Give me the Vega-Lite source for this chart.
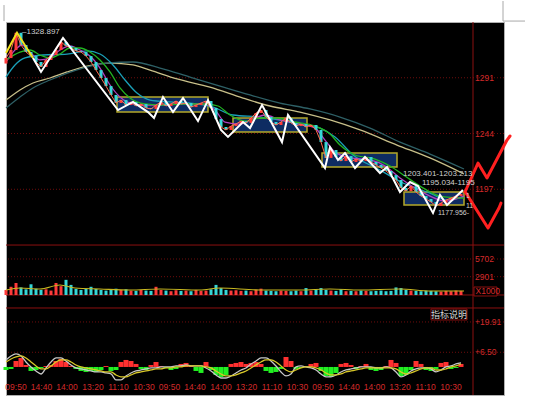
{
"$schema":"https://vega.github.io/schema/vega-lite/v6.json",
"width":498,"height":373,"autosize":"none",
"padding":{"left":6,"top":22,"right":54,"bottom":3},
"background":"#ffffff",
"config":{"view":{"fill":"#000000","stroke":"#b0b0b0","strokeWidth":1},"axis":{"disable":true},"legend":{"disable":true},"text":{"font":"Liberation Sans"}},
"datasets":{
"k":[
{"t":0,"o":1303.0,"c":1307.6,"v":800,"dif":3.10,"dea":2.21,"h":-1.33},
{"t":1,"o":1307.6,"c":1314.4,"v":1300,"dif":4.87,"dea":3.54,"h":-0.88},
{"t":2,"o":1314.4,"c":1328.9,"v":1900,"dif":5.75,"dea":4.42,"h":2.65},
{"t":3,"o":1328.9,"c":1318.6,"v":1200,"dif":4.87,"dea":4.87,"h":3.98},
{"t":4,"o":1318.6,"c":1312.7,"v":900,"dif":2.21,"dea":3.98,"h":0.88},
{"t":5,"o":1312.7,"c":1309.3,"v":1700,"dif":0,"dea":2.21,"h":-1.77},
{"t":6,"o":1309.3,"c":1304.3,"v":1000,"dif":-1.77,"dea":0.44,"h":-1.33},
{"t":7,"o":1304.3,"c":1300.1,"v":800,"dif":-3.10,"dea":-0.88,"h":-0.44},
{"t":8,"o":1300.1,"c":1306.0,"v":900,"dif":-0.44,"dea":-0.88,"h":0.44},
{"t":9,"o":1306.0,"c":1310.2,"v":700,"dif":2.21,"dea":0.44,"h":0.88},
{"t":10,"o":1310.2,"c":1314.4,"v":1900,"dif":3.98,"dea":2.21,"h":2.65},
{"t":11,"o":1314.4,"c":1321.1,"v":1400,"dif":3.98,"dea":3.10,"h":3.54},
{"t":12,"o":1321.1,"c":1317.8,"v":2400,"dif":2.65,"dea":3.10,"h":2.21},
{"t":13,"o":1317.8,"c":1316.1,"v":1600,"dif":0.88,"dea":2.21,"h":0.44},
{"t":14,"o":1316.1,"c":1313.6,"v":950,"dif":-0.44,"dea":0.88,"h":-0.88},
{"t":15,"o":1313.6,"c":1312.7,"v":800,"dif":-0.88,"dea":0,"h":-1.77},
{"t":16,"o":1312.7,"c":1309.3,"v":950,"dif":-1.33,"dea":-0.44,"h":-2.21},
{"t":17,"o":1309.3,"c":1304.3,"v":1300,"dif":-1.77,"dea":-0.88,"h":-1.77},
{"t":18,"o":1304.3,"c":1297.5,"v":950,"dif":-2.21,"dea":-1.33,"h":-2.21},
{"t":19,"o":1297.5,"c":1290.8,"v":800,"dif":-2.21,"dea":-1.77,"h":-1.33},
{"t":20,"o":1290.8,"c":1284.0,"v":700,"dif":-2.65,"dea":-2.21,"h":0.44},
{"t":21,"o":1284.0,"c":1276.5,"v":800,"dif":-3.10,"dea":-2.21,"h":-1.77},
{"t":22,"o":1276.5,"c":1269.7,"v":1000,"dif":-5.75,"dea":-3.54,"h":-1.33},
{"t":23,"o":1269.7,"c":1272.2,"v":800,"dif":-5.75,"dea":-4.42,"h":2.21},
{"t":24,"o":1272.2,"c":1268.0,"v":900,"dif":-3.98,"dea":-4.42,"h":3.10},
{"t":25,"o":1268.0,"c":1270.6,"v":700,"dif":-2.65,"dea":-3.54,"h":2.65},
{"t":26,"o":1270.6,"c":1267.2,"v":650,"dif":-1.77,"dea":-2.65,"h":1.33},
{"t":27,"o":1267.2,"c":1268.9,"v":800,"dif":-1.33,"dea":-2.21,"h":-0.88},
{"t":28,"o":1268.9,"c":1265.5,"v":700,"dif":-0.88,"dea":-1.77,"h":-1.33},
{"t":29,"o":1265.5,"c":1264.7,"v":650,"dif":-0.44,"dea":-1.33,"h":0.88},
{"t":30,"o":1264.7,"c":1268.0,"v":1300,"dif":-0.44,"dea":-0.88,"h":2.21},
{"t":31,"o":1268.0,"c":1270.6,"v":800,"dif":0,"dea":-0.88,"h":0.44},
{"t":32,"o":1270.6,"c":1267.2,"v":700,"dif":0,"dea":-0.44,"h":-0.44},
{"t":33,"o":1267.2,"c":1268.9,"v":600,"dif":0,"dea":-0.44,"h":-1.33},
{"t":34,"o":1268.9,"c":1271.4,"v":750,"dif":0.44,"dea":0,"h":-0.88},
{"t":35,"o":1271.4,"c":1268.9,"v":650,"dif":0.44,"dea":0,"h":1.33},
{"t":36,"o":1268.9,"c":1269.7,"v":700,"dif":0.88,"dea":0.44,"h":1.77},
{"t":37,"o":1269.7,"c":1266.3,"v":600,"dif":0.44,"dea":0.44,"h":0.44},
{"t":38,"o":1266.3,"c":1268.0,"v":800,"dif":0.44,"dea":0.44,"h":-1.77},
{"t":39,"o":1268.0,"c":1269.7,"v":650,"dif":0.44,"dea":0.44,"h":-2.65},
{"t":40,"o":1269.7,"c":1271.4,"v":700,"dif":-0.44,"dea":0,"h":2.21},
{"t":41,"o":1271.4,"c":1265.5,"v":900,"dif":-1.77,"dea":-0.44,"h":-1.33},
{"t":42,"o":1265.5,"c":1256.2,"v":1600,"dif":-3.54,"dea":-1.77,"h":-3.54},
{"t":43,"o":1256.2,"c":1249.5,"v":1100,"dif":-4.87,"dea":-3.10,"h":-4.42},
{"t":44,"o":1249.5,"c":1247.0,"v":800,"dif":-4.87,"dea":-3.98,"h":-3.54},
{"t":45,"o":1247.0,"c":1250.3,"v":700,"dif":-3.98,"dea":-3.98,"h":1.33},
{"t":46,"o":1250.3,"c":1252.0,"v":750,"dif":-2.65,"dea":-3.54,"h":1.77},
{"t":47,"o":1252.0,"c":1254.5,"v":650,"dif":-1.33,"dea":-2.65,"h":2.21},
{"t":48,"o":1254.5,"c":1252.9,"v":700,"dif":-0.44,"dea":-1.77,"h":1.33},
{"t":49,"o":1252.9,"c":1257.1,"v":600,"dif":1.33,"dea":-0.44,"h":1.77},
{"t":50,"o":1257.1,"c":1261.3,"v":850,"dif":2.65,"dea":0.88,"h":2.21},
{"t":51,"o":1261.3,"c":1263.8,"v":1000,"dif":3.98,"dea":2.21,"h":1.33},
{"t":52,"o":1263.8,"c":1257.9,"v":700,"dif":3.98,"dea":3.10,"h":-1.77},
{"t":53,"o":1257.9,"c":1253.7,"v":650,"dif":2.65,"dea":3.10,"h":-2.65},
{"t":54,"o":1253.7,"c":1251.2,"v":600,"dif":0.44,"dea":2.21,"h":-2.21},
{"t":55,"o":1251.2,"c":1253.7,"v":700,"dif":-2.21,"dea":0.44,"h":-0.88},
{"t":56,"o":1253.7,"c":1257.1,"v":650,"dif":-3.98,"dea":-1.33,"h":4.42},
{"t":57,"o":1257.1,"c":1252.9,"v":600,"dif":-3.10,"dea":-2.21,"h":2.65},
{"t":58,"o":1252.9,"c":1250.3,"v":700,"dif":0,"dea":-1.33,"h":-0.88},
{"t":59,"o":1250.3,"c":1252.0,"v":600,"dif":0.44,"dea":-0.44,"h":-0.44},
{"t":60,"o":1252.0,"c":1249.5,"v":1100,"dif":0,"dea":0,"h":0.44},
{"t":61,"o":1249.5,"c":1251.2,"v":700,"dif":-0.44,"dea":0,"h":1.33},
{"t":62,"o":1251.2,"c":1247.0,"v":900,"dif":-1.33,"dea":-0.44,"h":1.77},
{"t":63,"o":1247.0,"c":1236.8,"v":1100,"dif":-3.10,"dea":-1.33,"h":-1.77},
{"t":64,"o":1236.8,"c":1223.4,"v":800,"dif":-4.42,"dea":-2.65,"h":-3.98},
{"t":65,"o":1223.4,"c":1230.1,"v":700,"dif":-4.42,"dea":-3.54,"h":-4.42},
{"t":66,"o":1230.1,"c":1224.2,"v":650,"dif":-3.54,"dea":-3.54,"h":-2.65},
{"t":67,"o":1224.2,"c":1220.8,"v":900,"dif":-2.21,"dea":-3.10,"h":1.33},
{"t":68,"o":1220.8,"c":1225.0,"v":600,"dif":-1.33,"dea":-2.21,"h":1.77},
{"t":69,"o":1225.0,"c":1220.0,"v":650,"dif":-0.88,"dea":-1.77,"h":0.88},
{"t":70,"o":1220.0,"c":1222.5,"v":600,"dif":-0.44,"dea":-1.33,"h":-0.88},
{"t":71,"o":1222.5,"c":1220.8,"v":700,"dif":0,"dea":-0.88,"h":0.44},
{"t":72,"o":1220.8,"c":1224.2,"v":650,"dif":0,"dea":-0.44,"h":1.33},
{"t":73,"o":1224.2,"c":1220.0,"v":600,"dif":0,"dea":-0.44,"h":-1.33},
{"t":74,"o":1220.0,"c":1217.5,"v":650,"dif":-0.44,"dea":-0.44,"h":-1.77},
{"t":75,"o":1217.5,"c":1214.9,"v":700,"dif":-0.44,"dea":-0.44,"h":-1.33},
{"t":76,"o":1214.9,"c":1212.4,"v":600,"dif":0,"dea":-0.44,"h":0.44},
{"t":77,"o":1212.4,"c":1209.0,"v":650,"dif":-0.44,"dea":-0.44,"h":3.10},
{"t":78,"o":1209.0,"c":1204.8,"v":1200,"dif":-2.21,"dea":-0.88,"h":1.77},
{"t":79,"o":1204.8,"c":1198.1,"v":1100,"dif":-4.42,"dea":-2.21,"h":-3.98},
{"t":80,"o":1198.1,"c":1195.5,"v":800,"dif":-3.54,"dea":-3.10,"h":-3.54},
{"t":81,"o":1195.5,"c":1199.7,"v":700,"dif":-1.77,"dea":-2.65,"h":-1.33},
{"t":82,"o":1199.7,"c":1194.7,"v":650,"dif":-0.88,"dea":-1.77,"h":2.65},
{"t":83,"o":1194.7,"c":1191.3,"v":600,"dif":-0.44,"dea":-0.88,"h":1.33},
{"t":84,"o":1191.3,"c":1188.8,"v":700,"dif":-0.44,"dea":-0.44,"h":-1.33},
{"t":85,"o":1188.8,"c":1186.3,"v":650,"dif":-0.88,"dea":-0.44,"h":-1.77},
{"t":86,"o":1186.3,"c":1182.9,"v":600,"dif":-2.21,"dea":-1.33,"h":-0.88},
{"t":87,"o":1182.9,"c":1185.4,"v":550,"dif":-1.33,"dea":-1.33,"h":1.77},
{"t":88,"o":1185.4,"c":1187.9,"v":650,"dif":0,"dea":-0.88,"h":2.21},
{"t":89,"o":1187.9,"c":1189.6,"v":600,"dif":0.44,"dea":0,"h":-0.88},
{"t":90,"o":1189.6,"c":1191.3,"v":700,"dif":1.33,"dea":0.44,"h":-0.44},
{"t":91,"o":1191.3,"c":1193.0,"v":650,"dif":1.77,"dea":1.33,"h":1.33}
],
"ma":[
{"s":"tan","t":0,"p":1272.2},{"s":"tan","t":2.8,"p":1280.7},{"s":"tan","t":5.4,"p":1286.6},{"s":"tan","t":8.8,"p":1290.8},{"s":"tan","t":12.2,"p":1295.9},{"s":"tan","t":16.2,"p":1300.9},{"s":"tan","t":20.8,"p":1303.4},{"s":"tan","t":25.4,"p":1301.8},{"s":"tan","t":28.8,"p":1297.5},{"s":"tan","t":34.2,"p":1290.0},{"s":"tan","t":40.8,"p":1283.2},{"s":"tan","t":47.4,"p":1273.9},{"s":"tan","t":52.8,"p":1267.2},{"s":"tan","t":58.8,"p":1262.1},{"s":"tan","t":64.8,"p":1255.4},{"s":"tan","t":70.8,"p":1247.0},{"s":"tan","t":78.2,"p":1234.3},{"s":"tan","t":84.8,"p":1223.4},{"s":"tan","t":91.6,"p":1209.9},
{"s":"slate","t":0,"p":1265.5},{"s":"slate","t":2.8,"p":1274.8},{"s":"slate","t":5.4,"p":1282.4},{"s":"slate","t":8.8,"p":1289.1},{"s":"slate","t":15.4,"p":1299.2},{"s":"slate","t":20.2,"p":1303.4},{"s":"slate","t":25.4,"p":1304.3},{"s":"slate","t":30.8,"p":1299.2},{"s":"slate","t":36.8,"p":1291.6},{"s":"slate","t":42.8,"p":1284.0},{"s":"slate","t":48.8,"p":1276.5},{"s":"slate","t":54.8,"p":1269.7},{"s":"slate","t":60.8,"p":1264.7},{"s":"slate","t":66.8,"p":1257.9},{"s":"slate","t":72.8,"p":1248.6},{"s":"slate","t":78.8,"p":1236.8},{"s":"slate","t":84.8,"p":1226.7},{"s":"slate","t":91.6,"p":1214.1},
{"s":"cyan","t":0,"p":1291.6},{"s":"cyan","t":1.8,"p":1301.8},{"s":"cyan","t":3.8,"p":1307.7},{"s":"cyan","t":7.4,"p":1310.2},{"s":"cyan","t":12.2,"p":1311.0},{"s":"cyan","t":16.2,"p":1313.6},{"s":"cyan","t":18.8,"p":1311.0},{"s":"cyan","t":21.4,"p":1301.8},{"s":"cyan","t":23.8,"p":1289.1},{"s":"cyan","t":26.2,"p":1278.1},{"s":"cyan","t":28.8,"p":1272.2},{"s":"cyan","t":32.8,"p":1270.6},{"s":"cyan","t":36.8,"p":1269.7},{"s":"cyan","t":41.4,"p":1266.3},{"s":"cyan","t":45.4,"p":1259.6},{"s":"cyan","t":50.8,"p":1257.9},{"s":"cyan","t":54.8,"p":1255.4},{"s":"cyan","t":58.8,"p":1252.0},{"s":"cyan","t":62.8,"p":1248.6},{"s":"cyan","t":65.8,"p":1241.1},{"s":"cyan","t":69.4,"p":1225.9},{"s":"cyan","t":74.8,"p":1213.2},{"s":"cyan","t":79.4,"p":1202.3},{"s":"cyan","t":84.8,"p":1193.8},{"s":"cyan","t":88.2,"p":1187.9},{"s":"cyan","t":91.6,"p":1190.5},
{"s":"purple","t":0,"p":1304.3},{"s":"purple","t":1.8,"p":1314.4},{"s":"purple","t":3.2,"p":1318.6},{"s":"purple","t":4.8,"p":1312.7},{"s":"purple","t":6.8,"p":1306.0},{"s":"purple","t":8.8,"p":1307.7},{"s":"purple","t":10.8,"p":1314.4},{"s":"purple","t":12.8,"p":1317.8},{"s":"purple","t":14.8,"p":1314.4},{"s":"purple","t":16.8,"p":1309.3},{"s":"purple","t":18.8,"p":1299.2},{"s":"purple","t":20.8,"p":1284.9},{"s":"purple","t":22.8,"p":1274.8},{"s":"purple","t":24.8,"p":1269.7},{"s":"purple","t":27.8,"p":1268.0},{"s":"purple","t":30.8,"p":1268.0},{"s":"purple","t":33.8,"p":1268.9},{"s":"purple","t":36.8,"p":1268.9},{"s":"purple","t":39.8,"p":1268.9},{"s":"purple","t":41.8,"p":1263.8},{"s":"purple","t":43.8,"p":1253.7},{"s":"purple","t":46.8,"p":1252.0},{"s":"purple","t":49.8,"p":1257.1},{"s":"purple","t":51.8,"p":1259.6},{"s":"purple","t":54.8,"p":1255.4},{"s":"purple","t":58.8,"p":1252.0},{"s":"purple","t":61.8,"p":1248.6},{"s":"purple","t":63.8,"p":1238.5},{"s":"purple","t":65.8,"p":1228.4},{"s":"purple","t":68.8,"p":1223.4},{"s":"purple","t":72.8,"p":1221.7},{"s":"purple","t":75.8,"p":1216.6},{"s":"purple","t":78.8,"p":1206.5},{"s":"purple","t":81.8,"p":1198.1},{"s":"purple","t":84.8,"p":1191.3},{"s":"purple","t":87.8,"p":1187.1},{"s":"purple","t":91.6,"p":1191.3},
{"s":"green","t":0,"p":1306.0},{"s":"green","t":2.8,"p":1312.7},{"s":"green","t":4.8,"p":1314.4},{"s":"green","t":6.8,"p":1310.2},{"s":"green","t":8.8,"p":1307.7},{"s":"green","t":10.8,"p":1311.0},{"s":"green","t":12.8,"p":1316.1},{"s":"green","t":14.8,"p":1316.1},{"s":"green","t":16.8,"p":1312.7},{"s":"green","t":18.8,"p":1306.0},{"s":"green","t":20.8,"p":1295.9},{"s":"green","t":22.8,"p":1282.4},{"s":"green","t":24.8,"p":1273.9},{"s":"green","t":27.8,"p":1268.9},{"s":"green","t":30.8,"p":1268.0},{"s":"green","t":34.8,"p":1268.9},{"s":"green","t":39.8,"p":1268.9},{"s":"green","t":42.4,"p":1267.2},{"s":"green","t":44.8,"p":1259.6},{"s":"green","t":47.8,"p":1254.5},{"s":"green","t":50.8,"p":1257.1},{"s":"green","t":53.8,"p":1257.1},{"s":"green","t":57.8,"p":1253.7},{"s":"green","t":61.8,"p":1250.3},{"s":"green","t":64.8,"p":1243.6},{"s":"green","t":66.8,"p":1234.3},{"s":"green","t":69.8,"p":1225.9},{"s":"green","t":73.8,"p":1222.5},{"s":"green","t":76.8,"p":1216.6},{"s":"green","t":79.8,"p":1208.2},{"s":"green","t":82.8,"p":1199.7},{"s":"green","t":86.8,"p":1191.3},{"s":"green","t":91.6,"p":1189.6}
],
"zz":[
{"g":"y","t":0,"p":1311.9},{"g":"y","t":2.2,"p":1328.9},{"g":"y","t":5.4,"p":1307.6},
{"g":"w","t":5.4,"p":1307.6},{"g":"w","t":7,"p":1295.9},{"g":"w","t":11.4,"p":1324.5},{"g":"w","t":22.4,"p":1263.8},{"g":"w","t":25.4,"p":1270.6},{"g":"w","t":28.4,"p":1262.1},{"g":"w","t":29.6,"p":1257.1},{"g":"w","t":31.4,"p":1274.8},{"g":"w","t":33.4,"p":1262.1},{"g":"w","t":35.4,"p":1273.9},{"g":"w","t":38.4,"p":1254.5},{"g":"w","t":40.4,"p":1272.2},{"g":"w","t":43,"p":1247.0},{"g":"w","t":44.4,"p":1241.1},{"g":"w","t":47.4,"p":1253.7},{"g":"w","t":48.8,"p":1248.6},{"g":"w","t":51.2,"p":1268.0},{"g":"w","t":55.2,"p":1236.8},{"g":"w","t":56.4,"p":1259.6},{"g":"w","t":63.8,"p":1214.9},{"g":"w","t":64.8,"p":1232.6},{"g":"w","t":66.4,"p":1221.7},{"g":"w","t":67.8,"p":1227.6},{"g":"w","t":69.8,"p":1214.9},{"g":"w","t":71.8,"p":1224.2},{"g":"w","t":74.8,"p":1210.7},{"g":"w","t":76.2,"p":1215.8},{"g":"w","t":78.8,"p":1194.7},{"g":"w","t":80.8,"p":1203.1},{"g":"w","t":82.4,"p":1199.7},{"g":"w","t":85.4,"p":1177.0},{"g":"w","t":86.8,"p":1192.2},{"g":"w","t":88.2,"p":1183.7},{"g":"w","t":91.4,"p":1196.4}
],
"arr":[
{"g":"up","t":91.8,"p":1194.7},{"g":"up","t":94.4,"p":1219.1},{"g":"up","t":96.2,"p":1206.5},{"g":"up","t":100.2,"p":1238.5},{"g":"up","t":100.8,"p":1241.9},
{"g":"dn","t":92,"p":1193.8},{"g":"dn","t":96.4,"p":1164.3},{"g":"dn","t":98.6,"p":1181.2},{"g":"dn","t":99,"p":1185.4}
],
"box":[
{"t1":22.2,"t2":40.4,"p1":1274.8,"p2":1262.1},
{"t1":45.4,"t2":60.2,"p1":1257.1,"p2":1245.3},
{"t1":63.2,"t2":78.2,"p1":1227.6,"p2":1215.8},
{"t1":79.6,"t2":91.6,"p1":1194.7,"p2":1183.7}
],
"note":[
{"t":3.2,"p":1329.2,"s":"–1328.897"},
{"t":79.4,"p":1209.9,"s":"1203.401-1203.213"},
{"t":83.2,"p":1202.3,"s":"1195.034-1195"}
],
"note2":[
{"t":86.4,"p":1177.0,"s":"1177.956-"},
{"t":92.0,"p":1191.0,"s":"1"},
{"t":92.0,"p":1183.0,"s":"11"}
],
"corner":[
{"t1":-0.4,"t2":-0.4,"p1":1352.3,"p2":1338.8},
{"t1":99.4,"t2":99.4,"p1":1355.7,"p2":1338.8},
{"t1":99.4,"t2":103.8,"p1":1338.8,"p2":1338.8}
],
"vma":[
{"t":0,"v":790},{"t":2.8,"v":1109},{"t":6.8,"v":950},{"t":10.8,"v":1584},{"t":13.8,"v":1109},{"t":18.8,"v":950},{"t":24.8,"v":792},{"t":30.8,"v":950},{"t":38.8,"v":792},{"t":42.8,"v":1109},{"t":50.8,"v":792},{"t":58.8,"v":792},{"t":64.8,"v":950},{"t":70.8,"v":792},{"t":78.8,"v":950},{"t":84.8,"v":634},{"t":91.6,"v":634}
],
"xl":[
{"t":2.0,"h":-8.85,"s":"09:50"},{"t":7.1,"h":-8.85,"s":"14:40"},{"t":12.2,"h":-8.85,"s":"14:00"},{"t":17.4,"h":-8.85,"s":"13:20"},{"t":22.5,"h":-8.85,"s":"11:10"},{"t":27.6,"h":-8.85,"s":"10:30"},
{"t":32.7,"h":-8.85,"s":"09:50"},{"t":37.8,"h":-8.85,"s":"14:40"},{"t":43.0,"h":-8.85,"s":"14:00"},{"t":48.1,"h":-8.85,"s":"13:20"},{"t":53.2,"h":-8.85,"s":"11:10"},{"t":58.3,"h":-8.85,"s":"10:30"},
{"t":63.4,"h":-8.85,"s":"09:50"},{"t":68.6,"h":-8.85,"s":"14:40"},{"t":73.7,"h":-8.85,"s":"14:00"},{"t":78.8,"h":-8.85,"s":"13:20"},{"t":83.9,"h":-8.85,"s":"11:10"},{"t":89.0,"h":-8.85,"s":"10:30"}
]
},
"layer":[
{"layer":[
{"data":{"values":[{"p":1291},{"p":1244},{"p":1197}]},"mark":{"type":"rule","color":"#6e0c0c","strokeDash":[1,2]},"encoding":{"y":{"field":"p","type":"quantitative","scale":{"domain":[1023.6,1338],"nice":false,"zero":false}}}},
{"data":{"values":[{"p":1150}]},"mark":{"type":"rule","color":"#8c1010"},"encoding":{"y":{"field":"p","type":"quantitative","scale":{"domain":[1023.6,1338],"nice":false,"zero":false}}}},
{"data":{"values":[{"t":93.4}]},"mark":{"type":"rule","color":"#8c1010"},"encoding":{"x":{"field":"t","type":"quantitative","scale":{"domain":[0,99.6],"nice":false,"zero":false}}}},
{"data":{"name":"corner"},"mark":{"type":"rule","color":"#a8a8a8"},"encoding":{"x":{"field":"t1","type":"quantitative","scale":{"domain":[0,99.6],"nice":false,"zero":false}},"x2":{"field":"t2"},"y":{"field":"p1","type":"quantitative","scale":{"domain":[1023.6,1338],"nice":false,"zero":false}},"y2":{"field":"p2"}}},
{"data":{"name":"box"},"mark":{"type":"rect","fill":"#0e2c62","stroke":"#b4a82a","strokeWidth":1.5},"encoding":{"x":{"field":"t1","type":"quantitative","scale":{"domain":[0,99.6],"nice":false,"zero":false}},"x2":{"field":"t2"},"y":{"field":"p1","type":"quantitative","scale":{"domain":[1023.6,1338],"nice":false,"zero":false}},"y2":{"field":"p2"}}},
{"data":{"name":"ma"},"mark":{"type":"line","strokeWidth":1.3,"interpolate":"monotone"},"encoding":{"x":{"field":"t","type":"quantitative","scale":{"domain":[0,99.6],"nice":false,"zero":false}},"y":{"field":"p","type":"quantitative","scale":{"domain":[1023.6,1338],"nice":false,"zero":false}},"color":{"field":"s","type":"nominal","scale":{"domain":["tan","slate","cyan","green","purple"],"range":["#c8c08a","#2e6066","#1aa0b8","#22b422","#b040c0"]},"legend":null}}},
{"data":{"name":"k"},"mark":{"type":"rule","strokeWidth":3},"encoding":{"x":{"field":"t","type":"quantitative","scale":{"domain":[0,99.6],"nice":false,"zero":false}},"y":{"field":"o","type":"quantitative","scale":{"domain":[1023.6,1338],"nice":false,"zero":false}},"y2":{"field":"c"},"color":{"condition":{"test":"datum.c >= datum.o","value":"#ff3a3a"},"value":"#36d6d6"}}},
{"data":{"name":"k"},"mark":{"type":"line","strokeWidth":1,"color":"#ff6a50"},"encoding":{"x":{"field":"t","type":"quantitative","scale":{"domain":[0,99.6],"nice":false,"zero":false}},"y":{"field":"c","type":"quantitative","scale":{"domain":[1023.6,1338],"nice":false,"zero":false}}}},
{"data":{"name":"zz"},"mark":{"type":"line","strokeWidth":2},"encoding":{"x":{"field":"t","type":"quantitative","scale":{"domain":[0,99.6],"nice":false,"zero":false}},"y":{"field":"p","type":"quantitative","scale":{"domain":[1023.6,1338],"nice":false,"zero":false}},"detail":{"field":"g"},"color":{"condition":{"test":"datum.g == 'y'","value":"#f0e020"},"value":"#ffffff"}}},
{"data":{"name":"arr"},"mark":{"type":"line","strokeWidth":3,"color":"#ff2020","strokeCap":"round","strokeJoin":"round"},"encoding":{"x":{"field":"t","type":"quantitative","scale":{"domain":[0,99.6],"nice":false,"zero":false}},"y":{"field":"p","type":"quantitative","scale":{"domain":[1023.6,1338],"nice":false,"zero":false}},"detail":{"field":"g"}}},
{"data":{"name":"note"},"mark":{"type":"text","align":"left","baseline":"middle","fontSize":8,"color":"#d0d0d0"},"encoding":{"x":{"field":"t","type":"quantitative","scale":{"domain":[0,99.6],"nice":false,"zero":false}},"y":{"field":"p","type":"quantitative","scale":{"domain":[1023.6,1338],"nice":false,"zero":false}},"text":{"field":"s"}}},
{"data":{"name":"note2"},"mark":{"type":"text","align":"left","baseline":"middle","fontSize":7,"color":"#d0d0d0"},"encoding":{"x":{"field":"t","type":"quantitative","scale":{"domain":[0,99.6],"nice":false,"zero":false}},"y":{"field":"p","type":"quantitative","scale":{"domain":[1023.6,1338],"nice":false,"zero":false}},"text":{"field":"s"}}},
{"data":{"values":[{"t":93.8,"p":1291,"s":"1291"},{"t":93.8,"p":1244,"s":"1244"},{"t":93.8,"p":1197,"s":"1197"},{"t":93.8,"p":1340.5,"s":"1338"}]},"mark":{"type":"text","align":"left","baseline":"middle","fontSize":8.5,"color":"#d42a2a","clip":true},"encoding":{"x":{"field":"t","type":"quantitative","scale":{"domain":[0,99.6],"nice":false,"zero":false}},"y":{"field":"p","type":"quantitative","scale":{"domain":[1023.6,1338],"nice":false,"zero":false}},"text":{"field":"s"}}}
]},
{"layer":[
{"data":{"values":[{"v":5702},{"v":2901}]},"mark":{"type":"rule","color":"#6e0c0c","strokeDash":[1,2]},"encoding":{"y":{"field":"v","type":"quantitative","scale":{"domain":[-15840,43243],"nice":false,"zero":false}}}},
{"data":{"values":[{"v":0},{"v":-2059}]},"mark":{"type":"rule","color":"#8c1010"},"encoding":{"y":{"field":"v","type":"quantitative","scale":{"domain":[-15840,43243],"nice":false,"zero":false}}}},
{"data":{"name":"k"},"mark":{"type":"rule","strokeWidth":3},"encoding":{"x":{"field":"t","type":"quantitative","scale":{"domain":[0,99.6],"nice":false,"zero":false}},"y":{"field":"v","type":"quantitative","scale":{"domain":[-15840,43243],"nice":false,"zero":false}},"y2":{"datum":0},"color":{"condition":{"test":"datum.c >= datum.o","value":"#ff3a3a"},"value":"#36d6d6"}}},
{"data":{"name":"vma"},"mark":{"type":"line","strokeWidth":1.2,"color":"#c8b820","interpolate":"monotone"},"encoding":{"x":{"field":"t","type":"quantitative","scale":{"domain":[0,99.6],"nice":false,"zero":false}},"y":{"field":"v","type":"quantitative","scale":{"domain":[-15840,43243],"nice":false,"zero":false}}}},
{"data":{"values":[{"t1":93.6,"t2":98.2,"v1":1267,"v2":-158}]},"mark":{"type":"rect","fill":"#000000","stroke":"#8c1010","strokeWidth":1},"encoding":{"x":{"field":"t1","type":"quantitative","scale":{"domain":[0,99.6],"nice":false,"zero":false}},"x2":{"field":"t2"},"y":{"field":"v1","type":"quantitative","scale":{"domain":[-15840,43243],"nice":false,"zero":false}},"y2":{"field":"v2"}}},
{"data":{"values":[{"t":93.8,"v":5702,"s":"5702"},{"t":93.8,"v":2901,"s":"2901"},{"t":93.9,"v":560,"s":"X1000"}]},"mark":{"type":"text","align":"left","baseline":"middle","fontSize":8.5,"color":"#d42a2a"},"encoding":{"x":{"field":"t","type":"quantitative","scale":{"domain":[0,99.6],"nice":false,"zero":false}},"y":{"field":"v","type":"quantitative","scale":{"domain":[-15840,43243],"nice":false,"zero":false}},"text":{"field":"s"}}}
]},
{"layer":[
{"data":{"values":[{"h":19.91},{"h":6.5}]},"mark":{"type":"rule","color":"#6e0c0c","strokeDash":[1,2]},"encoding":{"y":{"field":"h","type":"quantitative","scale":{"domain":[-12.4,152.6],"nice":false,"zero":false}}}},
{"data":{"name":"k"},"mark":{"type":"rule","strokeWidth":5},"encoding":{"x":{"field":"t","type":"quantitative","scale":{"domain":[0,99.6],"nice":false,"zero":false}},"y":{"field":"h","type":"quantitative","scale":{"domain":[-12.4,152.6],"nice":false,"zero":false}},"y2":{"datum":0},"color":{"condition":{"test":"datum.h >= 0","value":"#ff3030"},"value":"#22f022"}}},
{"data":{"name":"k"},"mark":{"type":"line","strokeWidth":1.3,"color":"#c8c8c8","interpolate":"monotone"},"encoding":{"x":{"field":"t","type":"quantitative","scale":{"domain":[0,99.6],"nice":false,"zero":false}},"y":{"field":"dif","type":"quantitative","scale":{"domain":[-12.4,152.6],"nice":false,"zero":false}}}},
{"data":{"name":"k"},"mark":{"type":"line","strokeWidth":1.3,"color":"#d8c828","interpolate":"monotone"},"encoding":{"x":{"field":"t","type":"quantitative","scale":{"domain":[0,99.6],"nice":false,"zero":false}},"y":{"field":"dea","type":"quantitative","scale":{"domain":[-12.4,152.6],"nice":false,"zero":false}}}},
{"data":{"values":[{"t1":85,"t2":92.2,"h1":25.66,"h2":20.79}]},"mark":{"type":"rect","fill":"#000000","stroke":"#8c1010","strokeWidth":1},"encoding":{"x":{"field":"t1","type":"quantitative","scale":{"domain":[0,99.6],"nice":false,"zero":false}},"x2":{"field":"t2"},"y":{"field":"h1","type":"quantitative","scale":{"domain":[-12.4,152.6],"nice":false,"zero":false}},"y2":{"field":"h2"}}},
{"data":{"values":[{"t":88.6,"h":23.2,"s":"指标说明"}]},"mark":{"type":"text","align":"center","baseline":"middle","fontSize":9,"color":"#d8d8d8","font":"Noto Sans CJK SC"},"encoding":{"x":{"field":"t","type":"quantitative","scale":{"domain":[0,99.6],"nice":false,"zero":false}},"y":{"field":"h","type":"quantitative","scale":{"domain":[-12.4,152.6],"nice":false,"zero":false}},"text":{"field":"s"}}},
{"data":{"values":[{"t":93.8,"h":19.91,"s":"+19.91"},{"t":93.8,"h":6.5,"s":"+6.50"}]},"mark":{"type":"text","align":"left","baseline":"middle","fontSize":8.5,"color":"#d42a2a"},"encoding":{"x":{"field":"t","type":"quantitative","scale":{"domain":[0,99.6],"nice":false,"zero":false}},"y":{"field":"h","type":"quantitative","scale":{"domain":[-12.4,152.6],"nice":false,"zero":false}},"text":{"field":"s"}}},
{"data":{"name":"xl"},"mark":{"type":"text","align":"center","baseline":"middle","fontSize":8.5,"color":"#d42a2a"},"encoding":{"x":{"field":"t","type":"quantitative","scale":{"domain":[0,99.6],"nice":false,"zero":false}},"y":{"field":"h","type":"quantitative","scale":{"domain":[-12.4,152.6],"nice":false,"zero":false}},"text":{"field":"s"}}}
]}
],
"resolve":{"scale":{"y":"independent"}}
}
